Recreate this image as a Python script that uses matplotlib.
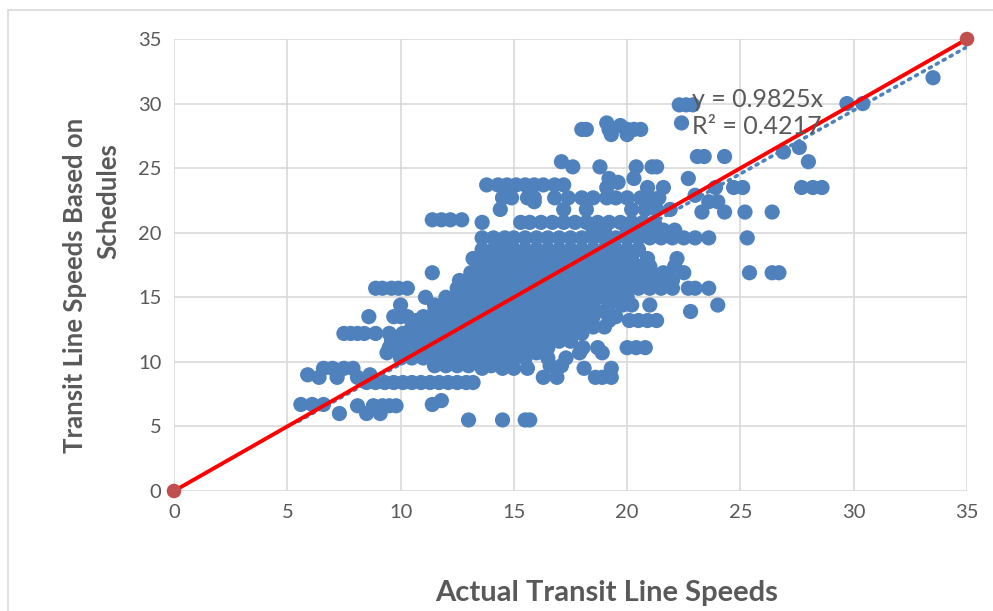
import matplotlib.pyplot as plt
from matplotlib.patches import Rectangle

# Vitesses planifiees (niveaux) et vitesses reelles observees a chaque niveau
sched_levels = [32.0, 30.0, 29.9, 28.5, 28.3, 28.0, 27.6, 26.6, 26.25, 25.9, 25.5, 25.1,
                24.2, 23.9, 23.7, 23.5, 22.9, 22.7, 22.4, 21.8, 21.6, 21.0, 20.8, 20.2,
                19.6, 18.7, 18.0, 17.4, 16.9, 16.3, 15.7, 15.0, 14.4, 13.9, 13.5, 13.2,
                12.7, 12.2, 11.6, 11.1, 10.7, 10.3, 9.7, 9.5, 9.0, 8.8, 8.4, 7.0, 6.7,
                6.6, 6.0, 5.5]

actual_by_level = [
    [33.5],
    [29.7, 30.4],
    [22.3, 22.6, 22.9],
    [19.1, 22.4],
    [19.7],
    [18.0, 18.2, 19.2, 20.0, 20.3, 20.6],
    [19.3, 20.0],
    [27.6],
    [26.9],
    [23.1, 23.4, 24.3],
    [17.1, 28.0],
    [17.6, 18.8, 20.4, 21.1, 21.3],
    [19.2, 20.3, 22.7],
    [19.6],
    [13.8, 14.3, 14.7, 15.1, 15.5, 15.9, 16.3, 16.8, 17.2],
    [19.1, 20.9, 21.6, 23.9, 24.7, 25.1, 27.7, 28.2, 28.6],
    [23.0],
    [14.5, 14.9, 15.6, 15.9, 16.8, 17.4, 18.0, 18.5, 19.1, 19.5, 20.0, 20.6, 21.0, 21.4],
    [15.9, 23.6, 24.0],
    [14.4, 17.2, 18.2, 20.2, 20.8, 21.3, 21.9],
    [23.3, 24.3, 25.2, 26.4],
    [11.4, 11.8, 12.2, 12.7],
    [13.6, 15.3, 15.7, 16.2, 16.7, 17.2, 17.7, 18.2, 18.7, 19.2, 19.7, 20.2, 20.7, 21.2],
    [18.5, 19.0, 20.0, 20.5, 21.0, 21.6, 22.1],
    [13.6, 14.1, 14.6, 15.0, 15.5, 16.0, 16.5, 17.0, 17.5, 18.0, 18.5, 19.0, 19.5, 20.0,
     20.5, 21.0, 21.5, 22.0, 22.5, 23.0, 23.6, 25.3],
    [13.6, 14.1, 14.5, 15.0, 15.5, 16.0, 16.5, 17.0, 17.5, 18.0, 18.5, 19.0, 19.5, 20.0, 20.5],
    [13.2, 13.7, 14.2, 14.7, 15.2, 15.7, 16.2, 16.7, 17.2, 17.7, 18.2, 18.7, 19.2, 19.7,
     20.2, 20.9, 22.2],
    [13.5, 14.0, 14.5, 15.0, 15.5, 16.0, 16.5, 17.0, 17.5, 18.0, 18.5, 19.0, 19.5, 20.0,
     20.5, 21.0, 22.1],
    [11.4, 13.1, 13.6, 14.1, 14.6, 15.1, 15.6, 16.1, 16.6, 17.1, 17.6, 18.1, 18.6, 19.1,
     19.6, 20.1, 20.6, 21.1, 21.6, 22.5, 25.4, 26.4, 26.7],
    [12.6, 13.1, 13.6, 14.1, 14.6, 15.1, 15.6, 16.1, 16.6, 17.1, 17.6, 18.1, 18.6, 19.1,
     19.6, 20.1, 20.6, 21.1, 21.6, 22.0],
    [8.9, 9.2, 9.6, 9.9, 10.3, 12.5, 13.0, 13.5, 14.0, 14.5, 15.0, 15.5, 16.0, 16.5, 17.0,
     17.5, 18.0, 18.5, 19.0, 19.5, 19.9, 20.5, 21.0, 21.5, 22.0, 22.7, 23.0, 23.6],
    [11.1, 12.0, 12.5, 13.0, 13.5, 14.0, 14.5, 15.0, 15.5, 16.0, 16.5, 17.0, 17.5, 18.0,
     18.5, 19.0, 19.5, 20.0],
    [10.0, 11.5, 12.0, 12.5, 13.0, 13.5, 14.0, 14.5, 15.0, 15.5, 16.0, 16.5, 17.0, 17.5,
     18.0, 18.5, 19.2, 19.8, 20.2, 21.0, 24.0],
    [11.5, 12.0, 12.5, 13.0, 13.5, 14.0, 14.5, 15.0, 15.5, 16.0, 16.5, 17.0, 17.5, 18.0,
     18.5, 19.0, 22.8],
    [8.6, 9.7, 10.0, 10.3, 11.0, 11.5, 12.0, 12.5, 13.0, 13.5, 14.0, 14.5, 15.0, 15.5,
     16.0, 16.5, 17.0, 17.5, 18.0, 18.5, 19.5],
    [10.7, 11.2, 11.7, 12.2, 12.7, 13.2, 13.7, 14.2, 15.2, 16.2, 17.2, 18.2, 19.2, 20.1,
     20.5, 20.9, 21.3],
    [10.5, 11.0, 11.5, 12.0, 12.5, 13.0, 13.5, 14.0, 14.5, 15.0, 15.5, 16.0, 16.5, 17.0,
     17.5, 18.0, 18.5, 19.0],
    [7.5, 7.8, 8.1, 8.4, 8.9, 9.5, 10.1, 10.5, 11.0, 11.5, 12.0, 12.5, 13.0, 13.5, 14.0,
     14.5, 15.0, 15.5, 16.0, 16.5, 17.0, 17.5, 18.0],
    [9.6, 10.0, 10.5, 11.0, 11.5, 12.0, 12.5, 13.0, 13.5, 14.0, 14.5, 15.0, 15.5, 16.0,
     16.5, 17.0, 17.5],
    [9.5, 10.0, 10.5, 11.0, 11.5, 12.0, 12.5, 13.0, 13.5, 14.0, 14.5, 15.0, 15.5, 16.0,
     16.5, 18.05, 18.7, 20.0, 20.4, 20.8],
    [9.4, 10.0, 10.5, 11.0, 11.5, 12.0, 12.5, 13.0, 13.5, 14.0, 14.5, 15.0, 15.5, 16.0,
     17.9, 18.9],
    [10.0, 10.5, 11.0, 11.5, 12.0, 12.5, 13.0, 13.5, 14.0, 14.5, 15.0, 15.5, 16.5, 17.3],
    [11.5, 12.0, 12.5, 13.0, 14.0, 14.5, 16.6, 17.1],
    [6.6, 7.0, 7.5, 7.9, 13.6, 14.5, 15.0, 15.6, 18.1, 19.3],
    [5.9, 8.65],
    [6.4, 7.2, 8.1, 16.3, 16.9, 18.6, 18.9, 19.3],
    [8.5, 8.9, 9.3, 9.7, 10.1, 10.5, 10.9, 11.3, 11.7, 12.1, 12.5, 12.9, 13.2],
    [11.8],
    [5.6, 6.1, 6.6, 11.4],
    [8.1, 8.8, 9.2, 9.5, 9.8],
    [7.3, 8.5, 9.1],
    [13.0, 14.5, 15.5, 15.7],
]

# Ligne de reference y = x et tendance
ref_x = [0, 35]
ref_y = [0, 35]
slope = 0.9825
r2 = 0.4217
trend_x = [5.5, 35]

actual = []
sched = []
for lvl, xs in zip(sched_levels, actual_by_level):
    for xv in xs:
        actual.append(xv)
        sched.append(lvl)

blue = "#4F81BD"
gray_txt = "#595959"
plt.rcParams['font.family'] = ['Lato', 'DejaVu Sans']

fig = plt.figure(figsize=(9.93, 6.11), dpi=100)
ax = fig.add_axes([174/993, 1-491/611, (967-174)/993, (491-39)/611])

ax.scatter(actual, sched, s=120, color=blue, edgecolors='none', zorder=3)
ax.plot([trend_x[0], trend_x[1]], [slope*trend_x[0], slope*trend_x[1]],
        linestyle=(0, (0.6, 1.6)), color=blue, lw=2.6, dash_capstyle='round', zorder=4)
ax.plot(ref_x, ref_y, color="#FF0000", lw=2.8, zorder=5)
ax.scatter(ref_x, ref_y, s=110, color="#C0504D", edgecolors='none', zorder=6, clip_on=False)

ax.set_xlim(0, 35)
ax.set_ylim(0, 35)
ax.set_xticks(range(0, 36, 5))
ax.set_yticks(range(0, 36, 5))
ax.grid(True, color="#D9D9D9", lw=1.2)
ax.set_axisbelow(True)
for s in ax.spines.values():
    s.set_visible(False)
ax.tick_params(length=0, labelsize=14.5, labelcolor=gray_txt, pad=9)

ax.text(22.85, 30.3, "y = " + str(slope) + "x", fontsize=18, color=gray_txt, va='center', zorder=7)
ax.text(22.85, 28.2, "R² = " + str(r2), fontsize=18, color=gray_txt, va='center', zorder=7)

fig.text(607/993, 1-593/611, "Actual Transit Line Speeds", ha='center', va='center',
         fontsize=21, fontweight='bold', color=gray_txt)
# titre vertical sur deux lignes
fig.text(75/993, 1-285/611, "Transit Line Speeds Based on", ha='center',
         va='center', rotation=90, fontsize=18.5, fontweight='bold', color=gray_txt)
fig.text(108/993, 1-201/611, "Schedules", ha='center',
         va='center', rotation=90, fontsize=18.5, fontweight='bold', color=gray_txt)

fig.patches.append(Rectangle((8/993, -0.05), 1.0, 1-10/611+0.05, transform=fig.transFigure,
                             fill=False, edgecolor="#D9D9D9", lw=1.2))

fig.savefig("out.png", dpi=100)
